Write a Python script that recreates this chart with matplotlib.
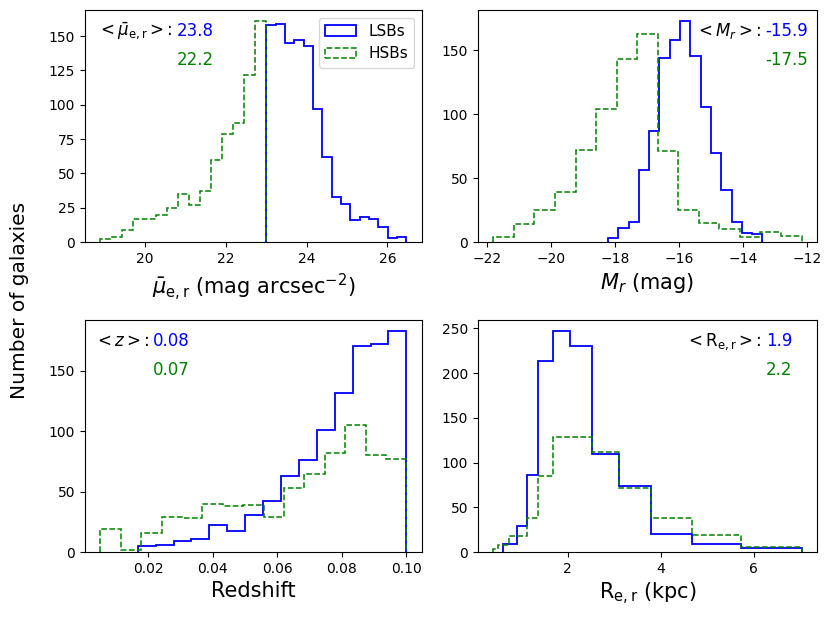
import numpy as np
import matplotlib
matplotlib.use("Agg")
import matplotlib.pyplot as plt

# ---------------- data ----------------
# Panel 1: mean effective surface brightness
mu_lsb_counts = [158, 159, 145, 147, 143, 97, 62, 33, 28, 16, 18, 17, 11, 3, 4]
mu_lsb_range = (23.0, 26.47)
mu_hsb_counts = [2, 4, 9, 17, 17, 20, 25, 35, 27, 37, 60, 79, 87, 122, 161]
mu_hsb_range = (18.89, 23.0)
mu_means = ("23.8", "22.2")
mu_xticks = [20, 22, 24, 26]
mu_yticks = [0, 25, 50, 75, 100, 125, 150]

# Panel 2: absolute magnitude
mr_lsb_counts = [3, 11, 16, 56, 87, 144, 158, 173, 146, 106, 70, 41, 16, 7, 6]
mr_lsb_range = (-18.22, -13.40)
mr_hsb_counts = [4, 14, 25, 39, 72, 104, 143, 163, 71, 25, 15, 10, 4, 8, 5]
mr_hsb_range = (-21.79, -12.18)
mr_means = ("-15.9", "-17.5")
mr_xticks = [-22, -20, -18, -16, -14, -12]
mr_yticks = [0, 50, 100, 150]

# Panel 3: redshift
z_lsb_counts = [5, 6, 9, 11, 22, 17, 31, 42, 63, 76, 101, 132, 171, 172, 183]
z_lsb_range = (0.0168, 0.100)
z_hsb_counts = [19, 2, 16, 29, 28, 40, 38, 39, 29, 53, 65, 82, 105, 80, 77]
z_hsb_range = (0.0052, 0.100)
z_means = ("0.08", "0.07")
z_xticks = [0.02, 0.04, 0.06, 0.08, 0.10]
z_yticks = [0, 50, 100, 150]

# Panel 4: effective radius (log-spaced bins)
re_edges = [0.40, 0.491, 0.602, 0.739, 0.907, 1.113, 1.366, 1.676,
            2.057, 2.525, 3.10, 3.80, 4.67, 5.73, 7.03]
re_lsb_first_edge = 2
re_lsb_counts = [9, 9, 29, 86, 213, 247, 230, 110, 74, 20, 9, 4]
re_hsb_counts = [3, 8, 8, 18, 18, 38, 85, 128, 128, 112, 72, 38, 19, 6]
re_means = ("1.9", "2.2")
re_xticks = [2, 4, 6]
re_yticks = [0, 50, 100, 150, 200, 250]

LSB_COLOR = "blue"
HSB_COLOR = "green"

fig = plt.figure(figsize=(8.31, 6.17), dpi=100)

W, H = 831, 617


def add_ax(left, right, top, bottom):
    return fig.add_axes([left / W, 1 - bottom / H, (right - left) / W, (bottom - top) / H])


ax1 = add_ax(85, 421.7, 10, 242)
ax2 = add_ax(478, 817, 10, 242)
ax3 = add_ax(85, 421.7, 320, 552)
ax4 = add_ax(478, 817, 320, 552)


def edges_from(rng, n):
    return np.linspace(rng[0], rng[1], n + 1)


def draw(ax, lsb_vals, lsb_edges, hsb_vals, hsb_edges):
    lsb_edges = np.asarray(lsb_edges, dtype=float)
    hsb_edges = np.asarray(hsb_edges, dtype=float)
    ax.hist(lsb_edges[:-1], bins=lsb_edges, weights=lsb_vals, histtype="step",
            color=LSB_COLOR, lw=1.3, ls="-", label="LSBs")
    ax.hist(hsb_edges[:-1], bins=hsb_edges, weights=hsb_vals, histtype="step",
            color=HSB_COLOR, lw=1.1, ls="--", label="HSBs")


draw(ax1, mu_lsb_counts, edges_from(mu_lsb_range, len(mu_lsb_counts)),
     mu_hsb_counts, edges_from(mu_hsb_range, len(mu_hsb_counts)))
draw(ax2, mr_lsb_counts, edges_from(mr_lsb_range, len(mr_lsb_counts)),
     mr_hsb_counts, edges_from(mr_hsb_range, len(mr_hsb_counts)))
draw(ax3, z_lsb_counts, edges_from(z_lsb_range, len(z_lsb_counts)),
     z_hsb_counts, edges_from(z_hsb_range, len(z_hsb_counts)))
draw(ax4, re_lsb_counts, re_edges[re_lsb_first_edge:], re_hsb_counts, re_edges)

for ax, xt, yt in ((ax1, mu_xticks, mu_yticks), (ax2, mr_xticks, mr_yticks),
                   (ax3, z_xticks, z_yticks), (ax4, re_xticks, re_yticks)):
    ax.set_xticks(xt)
    ax.set_yticks(yt)
    ax.tick_params(labelsize=10)

ax1.set_xlabel(r"$\bar{\mu}_{\rm e,r}$ (mag arcsec$^{-2}$)", fontsize=15)
ax2.set_xlabel(r"$M_r$ (mag)", fontsize=15)
ax3.set_xlabel("Redshift", fontsize=15)
ax4.set_xlabel(r"R$_{\rm e,r}$ (kpc)", fontsize=15)

fig.text(0.023, 0.513, "Number of galaxies", rotation=90, ha="center", va="center",
         fontsize=14.5)

ax1.legend(loc="upper right", fontsize=11)


def annotate(ax, label, means, xval):
    ax.text(xval - 0.012, 0.888, label, transform=ax.transAxes, ha="right",
            va="baseline", fontsize=12, color="black")
    ax.text(xval, 0.888, means[0], transform=ax.transAxes, ha="left",
            va="baseline", fontsize=12, color=LSB_COLOR)
    ax.text(xval, 0.763, means[1], transform=ax.transAxes, ha="left",
            va="baseline", fontsize=12, color=HSB_COLOR)


annotate(ax1, r"$<\bar{\mu}_{\rm e,r}>$:", mu_means, 0.272)
annotate(ax2, r"$<M_r>$:", mr_means, 0.847)
annotate(ax3, r"$<z>$:", z_means, 0.203)
annotate(ax4, r"$<{\rm R}_{\rm e,r}>$:", re_means, 0.85)

fig.savefig("out.png", dpi=100)
